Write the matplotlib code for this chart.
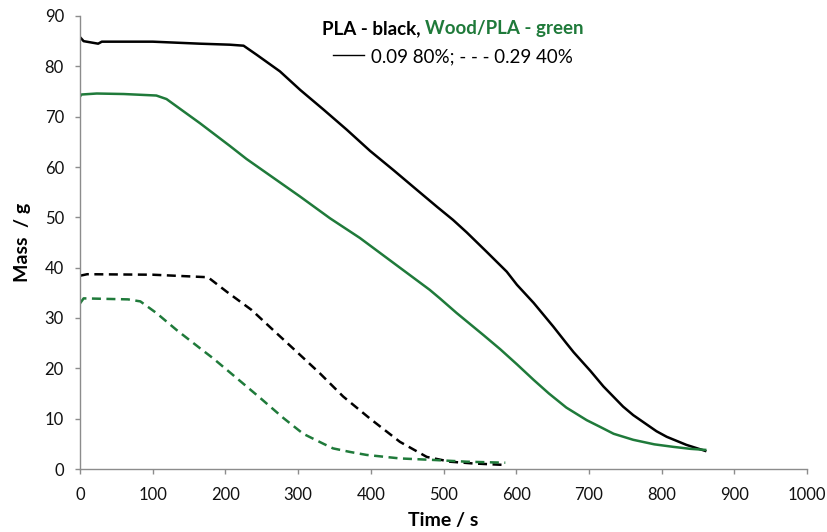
import matplotlib
matplotlib.use("Agg")
import matplotlib.pyplot as plt
from matplotlib.lines import Line2D

plt.rcParams['font.family'] = ['Lato', 'DejaVu Sans']

GREEN = '#1f7a3a'

# PLA, 0.09 80% (black solid)
t_pla_80 = [0, 5, 25, 30, 100, 165, 206, 225, 243, 275, 303, 335, 367, 399, 431,
            463, 491, 513, 532, 559, 587, 601, 624, 651, 669, 679, 702, 720, 747,
            761, 793, 807, 834, 860]
m_pla_80 = [85.8, 85.0, 84.5, 84.9, 84.9, 84.5, 84.3, 84.1, 82.3, 79.0, 75.3, 71.4,
            67.4, 63.2, 59.4, 55.5, 52.1, 49.5, 47.0, 43.2, 39.2, 36.6, 33.0, 28.3,
            25.0, 23.2, 19.5, 16.4, 12.4, 10.7, 7.5, 6.4, 4.8, 3.6]

# Wood/PLA, 0.09 80% (green solid)
t_wood_80 = [0, 2, 23, 60, 105, 119, 165, 206, 229, 303, 344, 385, 481, 495, 518,
             555, 578, 601, 624, 645, 669, 697, 715, 734, 761, 790, 816, 840, 860]
m_wood_80 = [74.0, 74.4, 74.6, 74.5, 74.2, 73.5, 68.7, 64.2, 61.6, 54.1, 49.8, 45.9,
             35.6, 33.9, 31.0, 26.6, 23.8, 20.8, 17.7, 15.0, 12.2, 9.7, 8.4, 7.0,
             5.8, 4.9, 4.4, 4.0, 3.8]

# PLA, 0.29 40% (black dashed)
t_pla_40 = [0, 10, 100, 176, 202, 236, 268, 298, 330, 362, 399, 440, 477, 509, 541, 585]
m_pla_40 = [38.4, 38.7, 38.6, 38.1, 35.2, 31.6, 27.3, 23.3, 19.0, 14.4, 10.0, 5.4,
            2.4, 1.45, 1.1, 0.8]

# Wood/PLA, 0.29 40% (green dashed)
t_wood_40 = [0, 5, 66, 83, 105, 133, 165, 183, 216, 248, 280, 307, 335, 348, 371,
             394, 440, 486, 532, 585]
m_wood_40 = [32.9, 33.9, 33.7, 33.3, 31.0, 27.6, 24.0, 22.0, 18.0, 14.1, 10.1, 7.0,
             5.0, 4.1, 3.4, 2.8, 2.1, 1.8, 1.45, 1.25]

x_ticks = list(range(0, 1001, 100))
y_ticks = list(range(0, 91, 10))

W, H = 827, 532
fig = plt.figure(figsize=(W / 100, H / 100), dpi=100)
ax = fig.add_axes([80 / W, 1 - 469 / H, 727 / W, 453 / H])

lw = 1.8
dash = (3.6, 2.2)
ax.plot(t_pla_80, m_pla_80, color='black', lw=lw)
ax.plot(t_wood_80, m_wood_80, color=GREEN, lw=lw)
ax.plot(t_pla_40, m_pla_40, color='black', lw=lw, dashes=dash)
ax.plot(t_wood_40, m_wood_40, color=GREEN, lw=lw, dashes=dash)

ax.set_xlim(0, 1000)
ax.set_ylim(0, 90)
ax.set_xticks(x_ticks)
ax.set_yticks(y_ticks)

for s in ['top', 'right']:
    ax.spines[s].set_visible(False)
for s in ['left', 'bottom']:
    ax.spines[s].set_color('#8c8c8c')
    ax.spines[s].set_linewidth(1.0)
ax.tick_params(direction='out', length=3.6, width=1, color='#8c8c8c',
               labelsize=12, labelcolor='#111111')
ax.tick_params(axis='x', pad=9)
ax.tick_params(axis='y', pad=8)

ax.set_xlabel('Time / s', fontsize=14, fontweight='bold', labelpad=7)
ax.set_ylabel('Mass  / g', fontsize=14, fontweight='bold', labelpad=10)

# title in two colours, centred around x ~ 453 px
renderer = fig.canvas.get_renderer()
cx = 453
fs = 13.5
part1 = 'PLA - black, '
part2 = 'Wood/PLA - green'
t1 = fig.text(0, 0, part1, fontsize=fs, fontweight='bold', color='black')
t2 = fig.text(0, 0, part2, fontsize=fs, fontweight='bold', color=GREEN)
w1 = t1.get_window_extent(renderer).width
w2 = t2.get_window_extent(renderer).width
x_start = cx - (w1 + w2) / 2
y1 = 1 - 34 / H
t1.set_position((x_start / W, y1))
t2.set_position(((x_start + w1) / W, y1))

# second line: solid sample line, then text
t3 = fig.text(0, 1 - 62 / H, '0.09 80%; - - - 0.29 40%', fontsize=fs, color='black')
w3 = t3.get_window_extent(renderer).width
seg, gap = 31, 7
x2 = cx - (seg + gap + w3) / 2
t3.set_position(((x2 + seg + gap) / W, 1 - 62 / H))
fig.add_artist(Line2D([x2 / W, (x2 + seg) / W], [1 - 55 / H, 1 - 55 / H],
                      color='black', lw=1.0, transform=fig.transFigure))

fig.savefig('out.png', dpi=100)
